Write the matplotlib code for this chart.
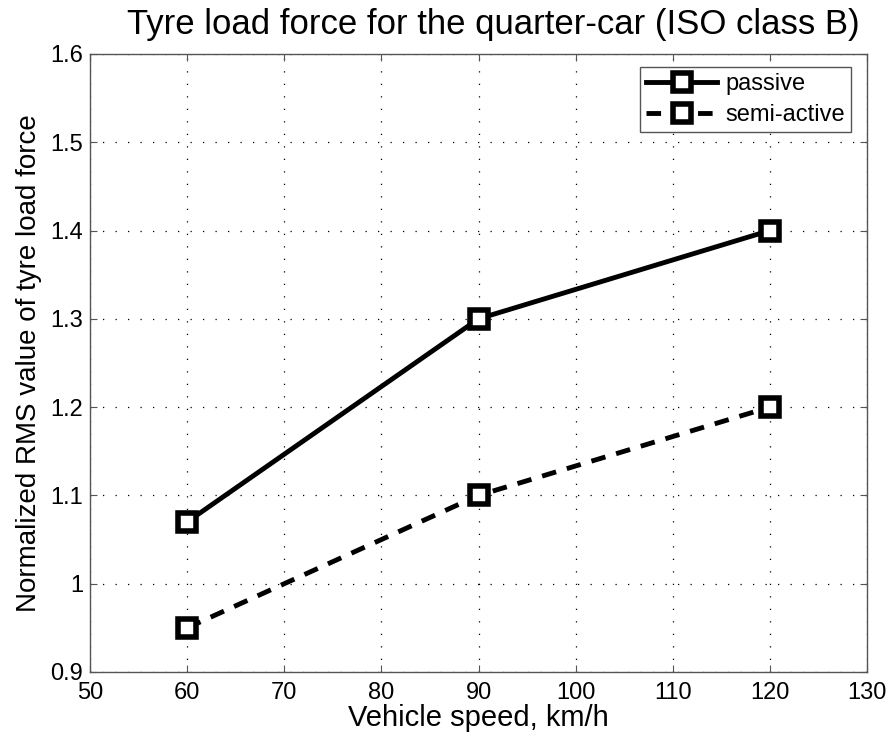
import matplotlib.pyplot as plt

speed = [60, 90, 120]
passive = [1.07, 1.30, 1.40]
semi_active = [0.95, 1.10, 1.20]

plt.rcParams['font.family'] = ['Liberation Sans', 'DejaVu Sans']

fig = plt.figure(figsize=(8.92, 7.43), dpi=100)
ax = fig.add_axes([0.101, 0.0956, 0.871, 0.8318])

ax.plot(speed, passive, '-s', color='black', lw=3.5, ms=13.3, mew=4,
        mfc='white', mec='black', label='passive')
ax.plot(speed, semi_active, '--s', color='black', lw=3.5, ms=13.3, mew=4,
        mfc='white', mec='black', label='semi-active', dashes=(3, 2.3))

ax.set_xlim(50, 130)
ax.set_ylim(0.9, 1.6)
ax.set_xticks(range(50, 131, 10))
ax.set_yticks([0.9, 1.0, 1.1, 1.2, 1.3, 1.4, 1.5, 1.6])
ax.set_yticklabels(['0.9', '1', '1.1', '1.2', '1.3', '1.4', '1.5', '1.6'])

# dotted grid like matlab
ax.grid(True, color='black', linestyle=(0, (1, 9)), linewidth=0.9)
ax.tick_params(axis='both', which='major', labelsize=17, direction='in',
               top=True, right=True, length=5, color='#555555')
ax.tick_params(axis='x', pad=7)
ax.tick_params(axis='y', pad=5)
for s in ax.spines.values():
    s.set_color('#555555')
    s.set_linewidth(1.0)

ax.set_title('Tyre load force for the quarter-car (ISO class B)', fontsize=25,
             pad=14, x=0.519)
ax.set_xlabel('Vehicle speed, km/h', fontsize=21, labelpad=0)
ax.set_ylabel('Normalized RMS value of tyre load force', fontsize=20, labelpad=6)

leg = ax.legend(loc='upper right', fontsize=17, fancybox=False, framealpha=1,
                edgecolor='#555555', handlelength=3.0, handletextpad=0.35,
                borderpad=0.25, labelspacing=0.4, borderaxespad=0,
                bbox_to_anchor=(0.979, 0.979))
leg.get_frame().set_linewidth(1.0)

plt.savefig('out.png', dpi=100)
